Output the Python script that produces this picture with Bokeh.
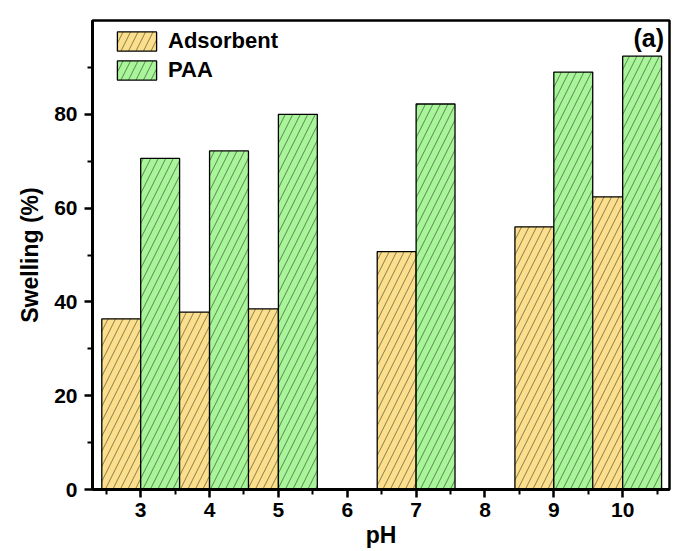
from bokeh.plotting import figure
from bokeh.models import Range1d, Legend, LegendItem, Label, FixedTicker, ColumnDataSource
from bokeh.embed import file_html
from bokeh.resources import INLINE

# ---- data ----
ph = [3, 4, 5, 7, 9, 10]
adsorbent = [36.4, 37.8, 38.5, 50.7, 56.0, 62.4]
paa = [70.6, 72.2, 80.0, 82.2, 89.0, 92.4]
x_ticks = [3, 4, 5, 6, 7, 8, 9, 10]
y_ticks = [0, 20, 40, 60, 80]

BAR_W = 0.565
FONT = "Liberation Sans"

src = ColumnDataSource(dict(
    ph=ph,
    x_ads=[v - BAR_W / 2 for v in ph],
    x_paa=[v + BAR_W / 2 for v in ph],
    ads=adsorbent,
    paa=paa,
))

p = figure(width=685, height=551, output_backend="svg", toolbar_location=None,
           x_range=Range1d(2.3, 10.68), y_range=Range1d(0, 100),
           min_border_left=92, min_border_right=16, min_border_top=20, min_border_bottom=62)
p.background_fill_color = "white"
p.border_fill_color = "white"
p.xgrid.visible = False
p.ygrid.visible = False
p.outline_line_color = "black"
p.outline_line_width = 2.5

common = dict(line_color="black", line_width=1.3, hatch_pattern="/", hatch_color="black",
              hatch_weight=0.6, hatch_scale=15, hatch_alpha=0.75)
r1 = p.vbar(x="x_ads", top="ads", width=BAR_W, source=src, fill_color="#FCDF8C", **common)
r2 = p.vbar(x="x_paa", top="paa", width=BAR_W, source=src, fill_color="#A8F59A", **common)

# axes
p.xaxis.ticker = FixedTicker(ticks=x_ticks, minor_ticks=[t + 0.5 for t in range(2, 11)])
p.yaxis.ticker = FixedTicker(ticks=y_ticks, minor_ticks=[t + 10 for t in y_ticks])
p.xaxis.axis_label = "pH"
p.yaxis.axis_label = "Swelling (%)"
for ax in (p.xaxis, p.yaxis):
    ax.axis_line_width = 3
    ax.axis_line_color = "black"
    ax.major_tick_out = 8
    ax.major_tick_in = 0
    ax.minor_tick_out = 5
    ax.minor_tick_in = 0
    ax.major_tick_line_width = 2.5
    ax.minor_tick_line_width = 2
    ax.major_label_text_font = FONT
    ax.major_label_text_font_style = "bold"
    ax.major_label_text_font_size = "21px"
    ax.major_label_text_color = "black"
    ax.axis_label_text_font = FONT
    ax.axis_label_text_font_style = "bold"
    ax.axis_label_text_font_size = "23px"
    ax.axis_label_text_color = "black"
p.xaxis.major_label_standoff = 5
p.xaxis.axis_label_standoff = 2
p.yaxis.major_label_standoff = 7
p.yaxis.axis_label_standoff = 8

legend = Legend(items=[LegendItem(label="Adsorbent", renderers=[r1]),
                       LegendItem(label="PAA", renderers=[r2])],
                location=(20, 406), glyph_width=49, glyph_height=24, label_height=24,
                spacing=3, padding=0, margin=0, border_line_color=None,
                background_fill_alpha=0, label_standoff=7,
                label_text_font=FONT, label_text_font_style="bold",
                label_text_font_size="22px", label_text_color="black")
p.add_layout(legend)

p.add_layout(Label(x=10.6, y=99.2, text="(a)", text_align="right", text_baseline="top",
                   text_font=FONT, text_font_style="bold", text_font_size="25px",
                   text_color="black"))

open("out.html", "w").write(file_html(p, INLINE))
